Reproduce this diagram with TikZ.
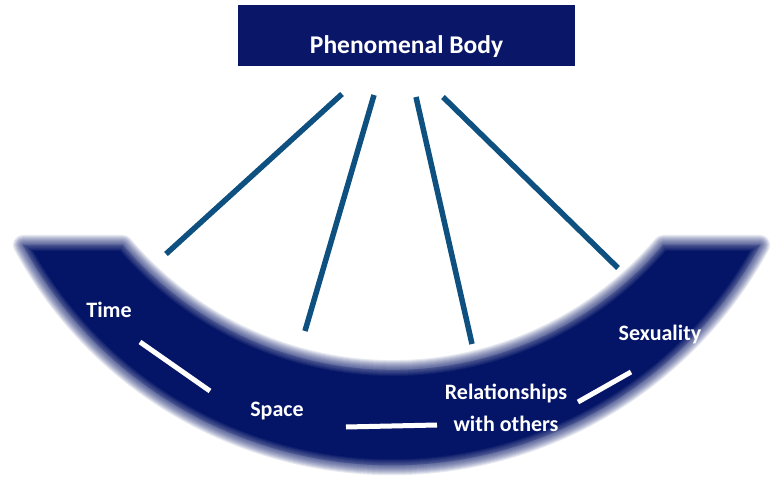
\documentclass[tikz,border=0pt]{standalone}
\usepackage{fontspec}
\setmainfont{Carlito}
\usetikzlibrary{positioning}

\definecolor{bodynavy}{RGB}{10,22,104}
\definecolor{bandnavy}{RGB}{4,20,102}
\definecolor{linkblue}{RGB}{14,80,128}

\begin{document}
\begin{tikzpicture}[
  x=1pt, y=1pt,
  every node/.style={text=white},
  bodybox/.style={
    rectangle,
    fill=bodynavy,
    inner sep=0pt,
    minimum width=337pt,
    minimum height=61pt,
    text height=37pt,
    text depth=0pt,
    font=\fontsize{25.5}{30}\selectfont\bfseries
  },
  aspect/.style={font=\fontsize{22}{32}\selectfont\bfseries, inner sep=0pt, anchor=base, align=center},
  link/.style={draw=linkblue, line width=5.5pt},
  divider/.style={draw=white, line width=5pt}
]
\useasboundingbox (0,0) rectangle (777,496);

% soft edged band
\foreach \i in {1,...,10}
  \draw[bandnavy, line width=2*\i pt, opacity=0.09, line join=round]
    (23,251) arc[start angle=-151.7, end angle=-28.3, radius=418.6pt] -- (663,251)
    arc[start angle=-40.3, end angle=-139.7, radius=354.1pt] -- cycle;
\fill[bandnavy] (23,251) arc[start angle=-151.7, end angle=-28.3, radius=418.6pt] -- (663,251)
    arc[start angle=-40.3, end angle=-139.7, radius=354.1pt] -- cycle;
\begin{scope}
  \clip (23,251) arc[start angle=-151.7, end angle=-28.3, radius=418.6pt] -- (663,251)
    arc[start angle=-40.3, end angle=-139.7, radius=354.1pt] -- cycle;
  \foreach \i in {1,...,6}
    \draw[white, line width=2*\i pt, opacity=0.05, line join=round]
      (23,251) arc[start angle=-151.7, end angle=-28.3, radius=418.6pt] -- (663,251)
      arc[start angle=-40.3, end angle=-139.7, radius=354.1pt] -- cycle;
\end{scope}

\node[bodybox] (body) at (406.5,460.5) {Phenomenal Body};

\node[aspect] (time) at (109,178) {Time};
\node[aspect] (space) at (277,80) {Space};
\node[aspect] (relations) at (506,65) {Relationships\\with others};
\node[aspect] (sexuality) at (660,155) {Sexuality};

% ends of the links
\coordinate (up1) at (342,402);
\coordinate (up2) at (374,401);
\coordinate (up3) at (416,399);
\coordinate (up4) at (443,399);
\coordinate (down1) at (166,242);
\coordinate (down2) at (305,165);
\coordinate (down3) at (472,152);
\coordinate (down4) at (618,228);

\draw[link] (up1) -- (down1);
\draw[link] (up2) -- (down2);
\draw[link] (up3) -- (down3);
\draw[link] (up4) -- (down4);

% dividers between the aspects
\coordinate (div1a) at (140,154);
\coordinate (div1b) at (210,105);
\coordinate (div2a) at (346,69);
\coordinate (div2b) at (437,71);
\coordinate (div3a) at (578,94);
\coordinate (div3b) at (631,124);

\draw[divider] (div1a) -- (div1b);
\draw[divider] (div2a) -- (div2b);
\draw[divider] (div3a) -- (div3b);
\end{tikzpicture}
\end{document}
